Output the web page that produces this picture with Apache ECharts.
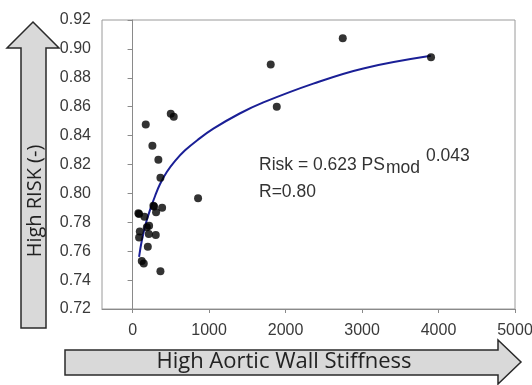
<!DOCTYPE html>
<html>
<head>
<meta charset="utf-8">
<script src="https://cdn.jsdelivr.net/npm/echarts@6/dist/echarts.min.js"></script>
<style>
html,body{margin:0;padding:0;background:#fff;}
#c{width:532px;height:385px;}
</style>
</head>
<body>
<div id="c"></div>
<script>
// Measured data points (PSmod, Risk)
var pointX = [172, 499, 538, 259, 337, 364, 856, 85, 155, 281, 307, 386, 216, 94, 85, 212, 303, 199, 120, 146, 364, 1806, 2748, 1885, 3902, 272, 186, 76];
var pointY = [0.8476, 0.8552, 0.8531, 0.8330, 0.8233, 0.8108, 0.7966, 0.7858, 0.7839, 0.7910, 0.7869, 0.7900, 0.7776, 0.7737, 0.7695, 0.7719, 0.7712, 0.7631, 0.7533, 0.7515, 0.7462, 0.8892, 0.9073, 0.8600, 0.8943, 0.7915, 0.7765, 0.7862];
// Trend curve
var curveX = [85, 120, 172, 229, 294, 359, 447, 556, 686, 850, 1056, 1400, 1710, 2363, 3017, 3900];
var curveY = [0.7561, 0.7672, 0.7790, 0.7888, 0.7982, 0.8065, 0.8148, 0.8225, 0.8298, 0.8370, 0.8448, 0.8553, 0.8630, 0.8760, 0.8865, 0.8952];
var xTicks = [0, 1000, 2000, 3000, 4000, 5000];
var xTitle = 'High Aortic Wall Stiffness';
var yTitle = 'High RISK (-)';
var eqMain = 'Risk = 0.623 PS';
var eqSub = 'mod';
var eqSup = '0.043';
var rText = 'R=0.80';

var pts = pointX.map(function(x, i){ return [x, pointY[i]]; });
var crv = curveX.map(function(x, i){ return [x, curveY[i]]; });

var chart = echarts.init(document.getElementById('c'));
var labelFont = {color:'#3a3a3a', fontSize:16, fontFamily:'Liberation Sans, Arial, sans-serif'};
var eqStyle = {fill:'#333', fontSize:17.5, fontFamily:'Liberation Sans, Arial, sans-serif'};
chart.setOption({
  animation:false,
  backgroundColor:'#fff',
  grid:{left:102, top:20, right:17, bottom:76, show:true, borderColor:'#9a9a9a', borderWidth:1, outerBoundsMode:'none'},
  xAxis:{
    type:'value', min:-400, max:5000,
    splitLine:{show:false},
    axisLine:{onZero:false, lineStyle:{color:'#8a8a8a', width:1}},
    axisTick:{show:true, customValues:xTicks, length:4, lineStyle:{color:'#8a8a8a'}},
    axisLabel:Object.assign({customValues:xTicks, margin:14, formatter:function(v){return String(v);}}, labelFont)
  },
  yAxis:{
    type:'value', min:0.72, max:0.92, interval:0.02,
    splitLine:{show:false},
    axisLine:{show:true, lineStyle:{color:'#8a8a8a', width:1}},
    axisTick:{show:true, length:5, lineStyle:{color:'#8a8a8a'}},
    axisLabel:Object.assign({margin:11, formatter:function(v){return v.toFixed(2);}}, labelFont)
  },
  series:[
    {type:'line', data:crv, smooth:0.4, showSymbol:false, symbol:'none', lineStyle:{color:'#1a1f96', width:2}, z:2},
    {type:'scatter', data:pts, symbolSize:8, itemStyle:{color:'#000'}, z:3}
  ],
  graphic:[
    {type:'polygon', shape:{points:[[33,22],[59,48],[46,48],[46,328],[21,328],[21,48],[7,48]]},
     style:{fill:'#d9d9d9', stroke:'#2a2a2a', lineWidth:1.5}},
    {type:'text', x:35, y:201, rotation:Math.PI/2,
     style:{text:yTitle, fill:'#222', fontSize:20, fontFamily:'Open Sans, sans-serif', align:'center', verticalAlign:'middle'}},
    {type:'polygon', shape:{points:[[65,350],[498,350],[498,340],[521,362],[498,384],[498,375],[65,375]]},
     style:{fill:'#d9d9d9', stroke:'#2a2a2a', lineWidth:1.5}},
    {type:'text', x:284, y:362,
     style:{text:xTitle, fill:'#222', fontSize:22, fontFamily:'Open Sans, sans-serif', align:'center', verticalAlign:'middle'}},
    {type:'text', x:259, y:165, style:Object.assign({text:eqMain, align:'left', verticalAlign:'middle'}, eqStyle)},
    {type:'text', x:386, y:168, style:Object.assign({text:eqSub, align:'left', verticalAlign:'middle'}, eqStyle)},
    {type:'text', x:426, y:156, style:Object.assign({text:eqSup, align:'left', verticalAlign:'middle'}, eqStyle)},
    {type:'text', x:259, y:192, style:Object.assign({text:rText, align:'left', verticalAlign:'middle'}, eqStyle)}
  ]
});
</script>
</body>
</html>
